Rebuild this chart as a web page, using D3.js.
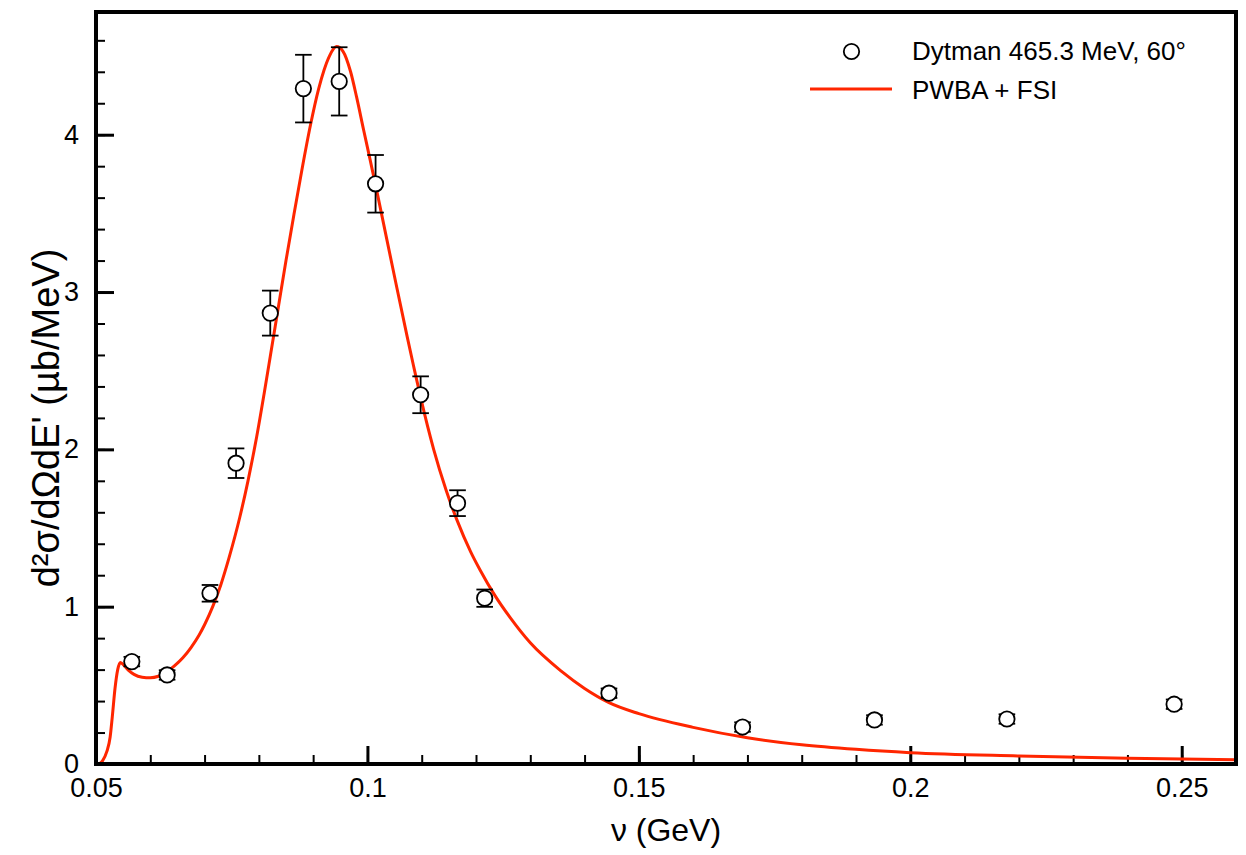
<!DOCTYPE html>
<html>
<head>
<meta charset="utf-8">
<script src="https://cdn.jsdelivr.net/npm/d3@7"></script>
<style>
  body { margin: 0; background: #fff; }
  svg text { font-family: "Liberation Sans", Arial, Helvetica, sans-serif; fill: #000; }
</style>
</head>
<body>
<svg id="chart" width="1246" height="855"></svg>
<script>
// Dytman data points (nu in GeV, cross section in ub/MeV, error)
var dataNu  = [0.0566, 0.0631, 0.0710, 0.0758, 0.0821, 0.0882, 0.0948, 0.1015, 0.1098, 0.1166, 0.1216, 0.1445, 0.1691, 0.1934, 0.2178, 0.2486];
var dataXs  = [0.651, 0.566, 1.085, 1.912, 2.866, 4.293, 4.339, 3.688, 2.347, 1.658, 1.054, 0.450, 0.235, 0.280, 0.286, 0.380];
var dataErr = [0.03, 0.03, 0.053, 0.094, 0.143, 0.215, 0.217, 0.183, 0.117, 0.082, 0.055, 0.03, 0.03, 0.03, 0.03, 0.03];

// PWBA + FSI curve
var curveNu = [0.0505, 0.0512, 0.0520, 0.0526, 0.0530, 0.0535, 0.0540, 0.0545, 0.0552, 0.0560, 0.0570, 0.0585,
  0.0600, 0.0615, 0.0630, 0.0645, 0.0660, 0.0675, 0.0690, 0.0700, 0.0715, 0.0730, 0.0745, 0.0765, 0.0780,
  0.0796, 0.0810, 0.0821, 0.0830, 0.0840, 0.0850, 0.0864, 0.0880, 0.0895, 0.0910, 0.0920, 0.0930, 0.0943,
  0.0955, 0.0969, 0.0980, 0.0993, 0.1005, 0.1018, 0.1030, 0.1042, 0.1054, 0.1073, 0.1085, 0.1098, 0.1122,
  0.1145, 0.1165, 0.1190, 0.1208, 0.1235, 0.1263, 0.1300, 0.1357, 0.1400, 0.1445, 0.1500, 0.1600, 0.1700,
  0.1800, 0.1900, 0.2000, 0.2200, 0.2400, 0.2600];
var curveXs = [0.0, 0.02, 0.08, 0.17, 0.30, 0.48, 0.60, 0.645, 0.625, 0.595, 0.57, 0.552,
  0.548, 0.558, 0.585, 0.625, 0.675, 0.74, 0.82, 0.885, 1.00, 1.14, 1.31, 1.57, 1.80,
  2.08, 2.36, 2.59, 2.78, 2.99, 3.20, 3.48, 3.79, 4.06, 4.29, 4.41, 4.50, 4.56,
  4.53, 4.40, 4.24, 4.03, 3.84, 3.63, 3.43, 3.23, 3.03, 2.72, 2.53, 2.33, 2.00,
  1.74, 1.55, 1.35, 1.23, 1.07, 0.93, 0.77, 0.59, 0.48, 0.39, 0.32, 0.233, 0.167,
  0.122, 0.093, 0.072, 0.051, 0.036, 0.027];

var xTicks = [0.05, 0.1, 0.15, 0.2, 0.25];
var yTicks = [0, 1, 2, 3, 4];
var legendLabels = ["Dytman 465.3 MeV, 60\u00b0", "PWBA + FSI"];

var red = "#ff2600";

var svg = d3.select("svg#chart");

//plot area in pixels
var margin = {top: 12, right: 10, bottom: 91, left: 96}
  , width = 1246 - margin.left - margin.right
  , height = 855 - margin.top - margin.bottom;

var xScale = d3.scaleLinear().domain([0.05, 0.26]).range([0, width]);
var yScale = d3.scaleLinear().domain([0, 4.78]).range([height, 0]);

var g = svg.append("g")
    .attr("transform", "translate(" + margin.left + "," + margin.top + ")");

// minor ticks (inward)
g.append("g")
    .attr("transform", "translate(0," + height + ")")
    .call(d3.axisBottom(xScale).tickValues(d3.range(0.05, 0.2601, 0.01)).tickSize(-9).tickFormat(""))
    .call(function(a) { a.select(".domain").remove(); a.selectAll("line").attr("stroke-width", 2); });
g.append("g")
    .call(d3.axisLeft(yScale).tickValues(d3.range(0, 4.79, 0.2)).tickSize(-9).tickFormat(""))
    .call(function(a) { a.select(".domain").remove(); a.selectAll("line").attr("stroke-width", 2); });

// major ticks + labels
g.append("g")
    .attr("transform", "translate(0," + height + ")")
    .call(d3.axisBottom(xScale).tickValues(xTicks).tickSize(-18).tickPadding(14).tickFormat(d3.format("")))
    .call(function(a) {
      a.select(".domain").remove();
      a.selectAll("line").attr("stroke-width", 3);
      a.selectAll("text").attr("font-size", 27).attr("font-family", null);
    });
g.append("g")
    .call(d3.axisLeft(yScale).tickValues(yTicks).tickSize(-18).tickPadding(17).tickFormat(d3.format("")))
    .call(function(a) {
      a.select(".domain").remove();
      a.selectAll("line").attr("stroke-width", 3);
      a.selectAll("text").attr("font-size", 27).attr("font-family", null);
    });

// the curve
var line = d3.line()
    .x(function(d, i) { return xScale(curveNu[i]); })
    .y(function(d) { return yScale(d); })
    .curve(d3.curveMonotoneX);

g.append("path")
    .datum(curveXs)
    .attr("fill", "none")
    .attr("stroke", red)
    .attr("stroke-width", 3)
    .attr("d", line);

// error bars
var points = dataNu.map(function(n, i) { return {x: n, y: dataXs[i], e: dataErr[i]}; });
var bars = g.append("g").attr("stroke", "#000").attr("stroke-width", 1.8);
points.forEach(function(p) {
  var px = xScale(p.x), y1 = yScale(p.y + p.e), y2 = yScale(p.y - p.e);
  bars.append("line").attr("x1", px).attr("x2", px).attr("y1", y1).attr("y2", y2);
  bars.append("line").attr("x1", px - 8.3).attr("x2", px + 8.3).attr("y1", y1).attr("y2", y1);
  bars.append("line").attr("x1", px - 8.3).attr("x2", px + 8.3).attr("y1", y2).attr("y2", y2);
});

// open circles
g.append("g").selectAll("circle")
    .data(points)
  .enter().append("circle")
    .attr("cx", function(d) { return xScale(d.x); })
    .attr("cy", function(d) { return yScale(d.y); })
    .attr("r", 7.7)
    .attr("fill", "#fff")
    .attr("stroke", "#000")
    .attr("stroke-width", 1.8);

// frame
g.append("rect")
    .attr("width", width)
    .attr("height", height)
    .attr("fill", "none")
    .attr("stroke", "#000")
    .attr("stroke-width", 4);

// axis titles
svg.append("text")
    .attr("x", margin.left + width / 2)
    .attr("y", 841)
    .attr("text-anchor", "middle")
    .attr("font-size", 32)
    .text("\u03bd (GeV)");

svg.append("text")
    .attr("transform", "translate(59,418) rotate(-90)")
    .attr("text-anchor", "middle")
    .attr("font-size", 38)
    .text("d\u00b2\u03c3/d\u03a9dE' (\u00b5b/MeV)");

// legend
var legend = svg.append("g");
legend.append("circle")
    .attr("cx", 851.5).attr("cy", 51.5).attr("r", 7.7)
    .attr("fill", "#fff").attr("stroke", "#000").attr("stroke-width", 1.8);
legend.append("line")
    .attr("x1", 810).attr("x2", 892).attr("y1", 89).attr("y2", 89)
    .attr("stroke", red).attr("stroke-width", 3);
legend.selectAll("text")
    .data(legendLabels)
  .enter().append("text")
    .attr("x", 912)
    .attr("y", function(d, i) { return 60 + i * 38.5; })
    .attr("font-size", 26)
    .text(function(d) { return d; });
</script>
</body>
</html>
